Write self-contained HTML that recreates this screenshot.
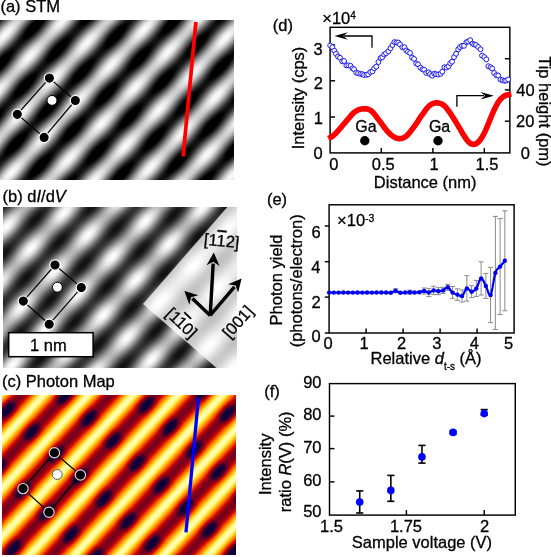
<!DOCTYPE html>
<html><head><meta charset="utf-8">
<style>
html,body{margin:0;padding:0;background:#fff;}
body{width:551px;height:557px;overflow:hidden;position:relative;}
canvas{position:absolute;display:block;}
svg{position:absolute;left:0;top:0;}
text{font-family:"Liberation Sans",sans-serif;fill:#000;stroke:#000;stroke-width:0.3px;}
</style></head><body>
<canvas id="ca" width="234" height="160" style="left:0px;top:20px;width:234px;height:160px;background:repeating-linear-gradient(132.8deg,#111 0px,#eee 16.4px,#111 32.8px)"></canvas>
<canvas id="cb" width="234" height="161" style="left:3px;top:207px;width:234px;height:161px;background:repeating-linear-gradient(132.8deg,#333 0px,#ddd 16.4px,#333 32.8px)"></canvas>
<canvas id="cc" width="234" height="160" style="left:2px;top:395px;width:234px;height:160px;background:repeating-linear-gradient(132.8deg,#700020 0px,#f04000 8px,#ffe060 16.4px,#f04000 24.6px,#700020 32.8px)"></canvas>
<svg width="551" height="557" viewBox="0 0 551 557">
<text x="0.45" y="12" font-size="16.5">(a) STM</text>
<text x="2.55" y="202.1" font-size="16.5">(b) d<tspan font-style="italic">I</tspan>/d<tspan font-style="italic">V</tspan></text>
<text x="1.95" y="387.1" font-size="16.5">(c) Photon Map</text>
<path d="M49.4 78.1 L75.3 100.5 L44.1 137.4 L17.3 114.3 L49.4 78.1" fill="none" stroke="#000" stroke-width="1.2"/>
<circle cx="49.4" cy="78.1" r="5.15" fill="#000" stroke="#fff" stroke-width="1.15"/>
<circle cx="75.3" cy="100.5" r="5.15" fill="#000" stroke="#fff" stroke-width="1.15"/>
<circle cx="44.1" cy="137.4" r="5.15" fill="#000" stroke="#fff" stroke-width="1.15"/>
<circle cx="17.3" cy="114.3" r="5.15" fill="#000" stroke="#fff" stroke-width="1.15"/>
<circle cx="52" cy="100.4" r="4.95" fill="#fff" stroke="#000" stroke-width="1"/>
<line x1="195.9" y1="22" x2="183.1" y2="156.5" stroke="#f00" stroke-width="3.7"/>
<path d="M237 207 L237 368 L216.6 368 L143 304 L227.35 207 L237 207" fill="#fff" stroke="none" stroke-width="1" fill-opacity="0.74"/>
<path d="M55 265 L81.3 287.6 L49.2 324.3 L23.3 301.1 L55 265" fill="none" stroke="#000" stroke-width="1.2"/>
<circle cx="55" cy="265" r="5.15" fill="#000" stroke="#fff" stroke-width="1.15"/>
<circle cx="81.3" cy="287.6" r="5.15" fill="#000" stroke="#fff" stroke-width="1.15"/>
<circle cx="49.2" cy="324.3" r="5.15" fill="#000" stroke="#fff" stroke-width="1.15"/>
<circle cx="23.3" cy="301.1" r="5.15" fill="#000" stroke="#fff" stroke-width="1.15"/>
<circle cx="57.4" cy="287.2" r="4.95" fill="#fff" stroke="#000" stroke-width="1"/>
<rect x="8.7" y="332.7" width="84.4" height="24" fill="#fff" stroke="#000" stroke-width="1.5"/>
<text x="29.97" y="350.7" font-size="16.5">1 nm</text>
<line x1="210.2" y1="315.4" x2="213.17" y2="263.58" stroke="#000" stroke-width="3.4"/>
<path d="M213.8 252.6 L219.55 265.95 L213.28 261.69 L206.57 265.21" fill="#000" stroke="none" stroke-width="1"/>
<line x1="210.2" y1="315.4" x2="192.39" y2="298.56" stroke="#000" stroke-width="3.4"/>
<path d="M184.4 291 L198.31 295.21 L191.01 297.25 L189.38 304.66" fill="#000" stroke="none" stroke-width="1"/>
<line x1="210.2" y1="315.4" x2="234.46" y2="286.97" stroke="#000" stroke-width="3.4"/>
<path d="M241.6 278.6 L238.11 292.71 L235.69 285.52 L228.22 284.27" fill="#000" stroke="none" stroke-width="1"/>
<text transform="translate(221.2,246.4) rotate(5.5)" font-size="16.5" text-anchor="middle">[1<tspan text-decoration="overline">1</tspan>2]</text>
<text transform="translate(177.7,327) rotate(43.5)" font-size="16.5" text-anchor="middle">[1<tspan text-decoration="overline">1</tspan>0]</text>
<text transform="translate(242,325.6) rotate(-48.3)" font-size="16.5" text-anchor="middle">[001]</text>
<path d="M54.4 452.7 L80.4 475 L49 512.2 L23 488.6 L54.4 452.7" fill="none" stroke="#000" stroke-width="1.2"/>
<circle cx="54.4" cy="452.7" r="5.15" fill="#000" stroke="#ddd" stroke-width="1.15"/>
<circle cx="80.4" cy="475" r="5.15" fill="#000" stroke="#ddd" stroke-width="1.15"/>
<circle cx="49" cy="512.2" r="5.15" fill="#000" stroke="#ddd" stroke-width="1.15"/>
<circle cx="23" cy="488.6" r="5.15" fill="#000" stroke="#ddd" stroke-width="1.15"/>
<circle cx="57.2" cy="474.5" r="4.95" fill="#fff" stroke="#555" stroke-width="1"/>
<line x1="198.4" y1="398.1" x2="186" y2="532.3" stroke="#00f" stroke-width="3.3"/>
<rect x="330.1" y="27.3" width="179.75" height="125.6" fill="none" stroke="#000" stroke-width="1.45"/>
<line x1="330.1" y1="117" x2="335.1" y2="117" stroke="#000" stroke-width="1.45"/>
<line x1="330.1" y1="80.8" x2="335.1" y2="80.8" stroke="#000" stroke-width="1.45"/>
<line x1="330.1" y1="44.9" x2="335.1" y2="44.9" stroke="#000" stroke-width="1.45"/>
<line x1="509.85" y1="121.2" x2="504.85" y2="121.2" stroke="#000" stroke-width="1.45"/>
<line x1="509.85" y1="89.9" x2="504.85" y2="89.9" stroke="#000" stroke-width="1.45"/>
<line x1="509.85" y1="58.7" x2="504.85" y2="58.7" stroke="#000" stroke-width="1.45"/>
<line x1="381.3" y1="152.9" x2="381.3" y2="147.9" stroke="#000" stroke-width="1.45"/>
<line x1="432.9" y1="152.9" x2="432.9" y2="147.9" stroke="#000" stroke-width="1.45"/>
<line x1="484.3" y1="152.9" x2="484.3" y2="147.9" stroke="#000" stroke-width="1.45"/>
<text x="313.5" y="159.4" font-size="16.5">0</text>
<text x="313.7" y="124.4" font-size="16.5">1</text>
<text x="313.7" y="89.2" font-size="16.5">2</text>
<text x="313.6" y="54.7" font-size="16.5">3</text>
<text x="520.7" y="158.7" font-size="16.5">0</text>
<text x="516" y="127.1" font-size="16.5">20</text>
<text x="516.22" y="96.1" font-size="16.5">40</text>
<text x="329.3" y="170.2" font-size="16.5">0</text>
<text x="371.75" y="170.2" font-size="16.5">0.5</text>
<text x="429.5" y="170.2" font-size="16.5">1</text>
<text x="475.55" y="170.2" font-size="16.5">1.5</text>
<text x="373.8" y="187.8" font-size="16.5">Distance (nm)</text>
<text transform="translate(303.8,149.35) rotate(-90)" font-size="16.5">Intensity (cps)</text>
<text transform="translate(539.3,56.2) rotate(90)" font-size="16.5">Tip height (pm)</text>
<text x="322.3" y="24" font-size="16.5">×10<tspan font-size="10" dy="-5.2">4</tspan></text>
<text x="272.75" y="30.5" font-size="16.5">(d)</text>
<path d="M330.8 137.2 L331.01 137.1 L331.27 137 L331.59 136.86 L331.98 136.66 L332.45 136.35 L333 135.9 L333.67 135.29 L334.46 134.54 L335.32 133.69 L336.23 132.77 L337.13 131.83 L338 130.9 L338.83 129.97 L339.67 129 L340.5 128 L341.33 126.99 L342.17 125.99 L343 125 L343.83 124.03 L344.67 123.06 L345.5 122.09 L346.33 121.13 L347.17 120.17 L348 119.2 L348.83 118.21 L349.67 117.18 L350.5 116.15 L351.33 115.16 L352.17 114.23 L353 113.4 L353.83 112.67 L354.67 112 L355.5 111.41 L356.33 110.87 L357.17 110.41 L358 110 L358.83 109.67 L359.67 109.41 L360.5 109.22 L361.33 109.08 L362.17 108.98 L363 108.9 L363.84 108.84 L364.7 108.81 L365.55 108.83 L366.39 108.89 L367.21 109.01 L368 109.2 L368.75 109.46 L369.46 109.78 L370.15 110.16 L370.83 110.6 L371.51 111.11 L372.2 111.7 L372.89 112.37 L373.57 113.12 L374.25 113.94 L374.94 114.81 L375.65 115.74 L376.4 116.7 L377.19 117.72 L378.01 118.81 L378.85 119.94 L379.7 121.1 L380.56 122.26 L381.4 123.4 L382.23 124.54 L383.07 125.7 L383.9 126.86 L384.73 127.99 L385.57 129.08 L386.4 130.1 L387.23 131.05 L388.07 131.97 L388.9 132.83 L389.73 133.64 L390.57 134.4 L391.4 135.1 L392.23 135.75 L393.06 136.35 L393.89 136.89 L394.73 137.37 L395.56 137.78 L396.4 138.1 L397.25 138.34 L398.1 138.5 L398.95 138.59 L399.8 138.61 L400.65 138.54 L401.5 138.4 L402.34 138.18 L403.17 137.9 L404.01 137.53 L404.84 137.08 L405.67 136.54 L406.5 135.9 L407.33 135.13 L408.17 134.24 L409 133.26 L409.83 132.22 L410.67 131.16 L411.5 130.1 L412.35 129.02 L413.22 127.89 L414.09 126.74 L414.94 125.59 L415.75 124.46 L416.5 123.4 L417.17 122.39 L417.79 121.4 L418.37 120.44 L418.92 119.52 L419.46 118.64 L420 117.8 L420.52 117.05 L420.99 116.39 L421.45 115.77 L421.93 115.14 L422.47 114.43 L423.1 113.6 L423.83 112.58 L424.65 111.4 L425.52 110.15 L426.42 108.91 L427.32 107.77 L428.2 106.8 L429.06 106 L429.93 105.3 L430.8 104.7 L431.67 104.19 L432.54 103.75 L433.4 103.4 L434.26 103.13 L435.11 102.95 L435.96 102.86 L436.8 102.84 L437.65 102.89 L438.5 103 L439.35 103.16 L440.2 103.37 L441.05 103.66 L441.9 104.03 L442.75 104.5 L443.6 105.1 L444.45 105.84 L445.3 106.72 L446.15 107.7 L447 108.76 L447.85 109.87 L448.7 111 L449.55 112.17 L450.4 113.4 L451.24 114.69 L452.09 116.01 L452.94 117.35 L453.8 118.7 L454.66 120.07 L455.53 121.47 L456.4 122.89 L457.27 124.33 L458.14 125.77 L459 127.2 L459.86 128.65 L460.71 130.13 L461.56 131.61 L462.4 133.06 L463.25 134.47 L464.1 135.8 L464.95 137.1 L465.8 138.39 L466.65 139.63 L467.5 140.78 L468.35 141.78 L469.2 142.6 L470.05 143.24 L470.9 143.73 L471.75 144.09 L472.6 144.3 L473.45 144.37 L474.3 144.3 L475.15 144.09 L476 143.73 L476.84 143.24 L477.69 142.6 L478.54 141.82 L479.4 140.9 L480.26 139.82 L481.13 138.57 L482 137.19 L482.87 135.68 L483.74 134.08 L484.6 132.4 L485.46 130.6 L486.31 128.66 L487.16 126.61 L488 124.52 L488.85 122.43 L489.7 120.4 L490.55 118.37 L491.4 116.3 L492.25 114.24 L493.1 112.22 L493.95 110.29 L494.8 108.5 L495.65 106.82 L496.5 105.23 L497.35 103.72 L498.2 102.32 L499.05 101.04 L499.9 99.9 L500.77 98.91 L501.66 98.06 L502.54 97.33 L503.41 96.71 L504.24 96.17 L505 95.7 L505.73 95.32 L506.44 95.06 L507.12 94.89 L507.72 94.77 L508.23 94.68 L508.6 94.6" fill="none" stroke="#f00" stroke-width="5.6" stroke-linejoin="round" stroke-linecap="square"/>
<circle cx="330.19" cy="45.44" r="2.45" fill="#fffbe0" stroke="#1a1aff" stroke-width="1"/>
<circle cx="332.39" cy="47.24" r="2.45" fill="#fffbe0" stroke="#1a1aff" stroke-width="1"/>
<circle cx="334.32" cy="50.76" r="2.45" fill="#fffbe0" stroke="#1a1aff" stroke-width="1"/>
<circle cx="336.03" cy="53.82" r="2.45" fill="#fffbe0" stroke="#1a1aff" stroke-width="1"/>
<circle cx="338.02" cy="56.5" r="2.45" fill="#fffbe0" stroke="#1a1aff" stroke-width="1"/>
<circle cx="340.04" cy="57.78" r="2.45" fill="#fffbe0" stroke="#1a1aff" stroke-width="1"/>
<circle cx="342.25" cy="61.35" r="2.45" fill="#fffbe0" stroke="#1a1aff" stroke-width="1"/>
<circle cx="344.07" cy="61.03" r="2.45" fill="#fffbe0" stroke="#1a1aff" stroke-width="1"/>
<circle cx="346.38" cy="65.45" r="2.45" fill="#fffbe0" stroke="#1a1aff" stroke-width="1"/>
<circle cx="348.35" cy="65.35" r="2.45" fill="#fffbe0" stroke="#1a1aff" stroke-width="1"/>
<circle cx="350.59" cy="65.84" r="2.45" fill="#fffbe0" stroke="#1a1aff" stroke-width="1"/>
<circle cx="352.52" cy="68.31" r="2.45" fill="#fffbe0" stroke="#1a1aff" stroke-width="1"/>
<circle cx="354.09" cy="69.24" r="2.45" fill="#fffbe0" stroke="#1a1aff" stroke-width="1"/>
<circle cx="356.19" cy="72.58" r="2.45" fill="#fffbe0" stroke="#1a1aff" stroke-width="1"/>
<circle cx="358.11" cy="73.28" r="2.45" fill="#fffbe0" stroke="#1a1aff" stroke-width="1"/>
<circle cx="360.38" cy="73.91" r="2.45" fill="#fffbe0" stroke="#1a1aff" stroke-width="1"/>
<circle cx="362.33" cy="74.12" r="2.45" fill="#fffbe0" stroke="#1a1aff" stroke-width="1"/>
<circle cx="364.04" cy="74.92" r="2.45" fill="#fffbe0" stroke="#1a1aff" stroke-width="1"/>
<circle cx="366.41" cy="74.94" r="2.45" fill="#fffbe0" stroke="#1a1aff" stroke-width="1"/>
<circle cx="368.19" cy="74.33" r="2.45" fill="#fffbe0" stroke="#1a1aff" stroke-width="1"/>
<circle cx="370.27" cy="72.05" r="2.45" fill="#fffbe0" stroke="#1a1aff" stroke-width="1"/>
<circle cx="372.48" cy="71.34" r="2.45" fill="#fffbe0" stroke="#1a1aff" stroke-width="1"/>
<circle cx="374.15" cy="68.35" r="2.45" fill="#fffbe0" stroke="#1a1aff" stroke-width="1"/>
<circle cx="376.32" cy="66.64" r="2.45" fill="#fffbe0" stroke="#1a1aff" stroke-width="1"/>
<circle cx="378.44" cy="62.05" r="2.45" fill="#fffbe0" stroke="#1a1aff" stroke-width="1"/>
<circle cx="380.59" cy="58.02" r="2.45" fill="#fffbe0" stroke="#1a1aff" stroke-width="1"/>
<circle cx="382.25" cy="57.24" r="2.45" fill="#fffbe0" stroke="#1a1aff" stroke-width="1"/>
<circle cx="384.09" cy="54.55" r="2.45" fill="#fffbe0" stroke="#1a1aff" stroke-width="1"/>
<circle cx="386.02" cy="53.27" r="2.45" fill="#fffbe0" stroke="#1a1aff" stroke-width="1"/>
<circle cx="388.46" cy="51.28" r="2.45" fill="#fffbe0" stroke="#1a1aff" stroke-width="1"/>
<circle cx="390.53" cy="48.2" r="2.45" fill="#fffbe0" stroke="#1a1aff" stroke-width="1"/>
<circle cx="392.42" cy="45.1" r="2.45" fill="#fffbe0" stroke="#1a1aff" stroke-width="1"/>
<circle cx="394.35" cy="42.11" r="2.45" fill="#fffbe0" stroke="#1a1aff" stroke-width="1"/>
<circle cx="396.5" cy="42.46" r="2.45" fill="#fffbe0" stroke="#1a1aff" stroke-width="1"/>
<circle cx="398.28" cy="42.53" r="2.45" fill="#fffbe0" stroke="#1a1aff" stroke-width="1"/>
<circle cx="400.04" cy="44.41" r="2.45" fill="#fffbe0" stroke="#1a1aff" stroke-width="1"/>
<circle cx="402.39" cy="47.28" r="2.45" fill="#fffbe0" stroke="#1a1aff" stroke-width="1"/>
<circle cx="404.49" cy="47.24" r="2.45" fill="#fffbe0" stroke="#1a1aff" stroke-width="1"/>
<circle cx="406.23" cy="50.42" r="2.45" fill="#fffbe0" stroke="#1a1aff" stroke-width="1"/>
<circle cx="408.01" cy="51.81" r="2.45" fill="#fffbe0" stroke="#1a1aff" stroke-width="1"/>
<circle cx="410.1" cy="52.92" r="2.45" fill="#fffbe0" stroke="#1a1aff" stroke-width="1"/>
<circle cx="412.04" cy="57.5" r="2.45" fill="#fffbe0" stroke="#1a1aff" stroke-width="1"/>
<circle cx="414.08" cy="58.92" r="2.45" fill="#fffbe0" stroke="#1a1aff" stroke-width="1"/>
<circle cx="416.23" cy="63.46" r="2.45" fill="#fffbe0" stroke="#1a1aff" stroke-width="1"/>
<circle cx="418.05" cy="64.34" r="2.45" fill="#fffbe0" stroke="#1a1aff" stroke-width="1"/>
<circle cx="420.33" cy="67.56" r="2.45" fill="#fffbe0" stroke="#1a1aff" stroke-width="1"/>
<circle cx="422.49" cy="69.27" r="2.45" fill="#fffbe0" stroke="#1a1aff" stroke-width="1"/>
<circle cx="424.17" cy="69.78" r="2.45" fill="#fffbe0" stroke="#1a1aff" stroke-width="1"/>
<circle cx="426.22" cy="72.95" r="2.45" fill="#fffbe0" stroke="#1a1aff" stroke-width="1"/>
<circle cx="428.57" cy="72.36" r="2.45" fill="#fffbe0" stroke="#1a1aff" stroke-width="1"/>
<circle cx="430.11" cy="74.12" r="2.45" fill="#fffbe0" stroke="#1a1aff" stroke-width="1"/>
<circle cx="432.14" cy="75.72" r="2.45" fill="#fffbe0" stroke="#1a1aff" stroke-width="1"/>
<circle cx="434.35" cy="73.63" r="2.45" fill="#fffbe0" stroke="#1a1aff" stroke-width="1"/>
<circle cx="436" cy="74.24" r="2.45" fill="#fffbe0" stroke="#1a1aff" stroke-width="1"/>
<circle cx="438.22" cy="74.57" r="2.45" fill="#fffbe0" stroke="#1a1aff" stroke-width="1"/>
<circle cx="440.57" cy="73.8" r="2.45" fill="#fffbe0" stroke="#1a1aff" stroke-width="1"/>
<circle cx="442.31" cy="71.63" r="2.45" fill="#fffbe0" stroke="#1a1aff" stroke-width="1"/>
<circle cx="444.41" cy="67.24" r="2.45" fill="#fffbe0" stroke="#1a1aff" stroke-width="1"/>
<circle cx="446.54" cy="67.6" r="2.45" fill="#fffbe0" stroke="#1a1aff" stroke-width="1"/>
<circle cx="448.52" cy="66.26" r="2.45" fill="#fffbe0" stroke="#1a1aff" stroke-width="1"/>
<circle cx="450.24" cy="63.27" r="2.45" fill="#fffbe0" stroke="#1a1aff" stroke-width="1"/>
<circle cx="452.06" cy="61.71" r="2.45" fill="#fffbe0" stroke="#1a1aff" stroke-width="1"/>
<circle cx="454.04" cy="57.1" r="2.45" fill="#fffbe0" stroke="#1a1aff" stroke-width="1"/>
<circle cx="456.13" cy="53.77" r="2.45" fill="#fffbe0" stroke="#1a1aff" stroke-width="1"/>
<circle cx="458.2" cy="49.36" r="2.45" fill="#fffbe0" stroke="#1a1aff" stroke-width="1"/>
<circle cx="460" cy="47.11" r="2.45" fill="#fffbe0" stroke="#1a1aff" stroke-width="1"/>
<circle cx="462.06" cy="45.75" r="2.45" fill="#fffbe0" stroke="#1a1aff" stroke-width="1"/>
<circle cx="464.02" cy="45.84" r="2.45" fill="#fffbe0" stroke="#1a1aff" stroke-width="1"/>
<circle cx="466.37" cy="42.2" r="2.45" fill="#fffbe0" stroke="#1a1aff" stroke-width="1"/>
<circle cx="468.15" cy="41.6" r="2.45" fill="#fffbe0" stroke="#1a1aff" stroke-width="1"/>
<circle cx="470.22" cy="40.16" r="2.45" fill="#fffbe0" stroke="#1a1aff" stroke-width="1"/>
<circle cx="472.51" cy="43.64" r="2.45" fill="#fffbe0" stroke="#1a1aff" stroke-width="1"/>
<circle cx="474.28" cy="44.52" r="2.45" fill="#fffbe0" stroke="#1a1aff" stroke-width="1"/>
<circle cx="476.05" cy="45.05" r="2.45" fill="#fffbe0" stroke="#1a1aff" stroke-width="1"/>
<circle cx="478.21" cy="47" r="2.45" fill="#fffbe0" stroke="#1a1aff" stroke-width="1"/>
<circle cx="480.5" cy="49.29" r="2.45" fill="#fffbe0" stroke="#1a1aff" stroke-width="1"/>
<circle cx="482.01" cy="55.6" r="2.45" fill="#fffbe0" stroke="#1a1aff" stroke-width="1"/>
<circle cx="484.32" cy="57.07" r="2.45" fill="#fffbe0" stroke="#1a1aff" stroke-width="1"/>
<circle cx="486.33" cy="59.38" r="2.45" fill="#fffbe0" stroke="#1a1aff" stroke-width="1"/>
<circle cx="488.32" cy="66.18" r="2.45" fill="#fffbe0" stroke="#1a1aff" stroke-width="1"/>
<circle cx="490.52" cy="67.19" r="2.45" fill="#fffbe0" stroke="#1a1aff" stroke-width="1"/>
<circle cx="492.16" cy="68.5" r="2.45" fill="#fffbe0" stroke="#1a1aff" stroke-width="1"/>
<circle cx="494.1" cy="72.94" r="2.45" fill="#fffbe0" stroke="#1a1aff" stroke-width="1"/>
<circle cx="496.32" cy="75.24" r="2.45" fill="#fffbe0" stroke="#1a1aff" stroke-width="1"/>
<circle cx="498.2" cy="75.54" r="2.45" fill="#fffbe0" stroke="#1a1aff" stroke-width="1"/>
<circle cx="500.49" cy="79.55" r="2.45" fill="#fffbe0" stroke="#1a1aff" stroke-width="1"/>
<circle cx="502.51" cy="80.26" r="2.45" fill="#fffbe0" stroke="#1a1aff" stroke-width="1"/>
<circle cx="504.49" cy="80.77" r="2.45" fill="#fffbe0" stroke="#1a1aff" stroke-width="1"/>
<circle cx="506.14" cy="80.61" r="2.45" fill="#fffbe0" stroke="#1a1aff" stroke-width="1"/>
<circle cx="508.21" cy="79.52" r="2.45" fill="#fffbe0" stroke="#1a1aff" stroke-width="1"/>
<path d="M344 36 L372 36 L372 47.7" fill="none" stroke="#000" stroke-width="1.3"/>
<path d="M334.4 36 L347.9 32.2 L343.17 36 L347.9 39.8 L334.4 36" fill="#000" stroke="none" stroke-width="1"/>
<path d="M456.9 106.8 L456.9 95.7 L484 95.7" fill="none" stroke="#000" stroke-width="1.3"/>
<path d="M493.9 95.7 L480.4 99.5 L485.12 95.7 L480.4 91.9 L493.9 95.7" fill="#000" stroke="none" stroke-width="1"/>
<text x="355.23" y="131.9" font-size="16">Ga</text>
<circle cx="364.8" cy="140.8" r="4.7" fill="#000" stroke="none" stroke-width="1"/>
<text x="428.93" y="132.4" font-size="16">Ga</text>
<circle cx="438" cy="140.7" r="4.7" fill="#000" stroke="none" stroke-width="1"/>
<rect x="329.1" y="204.8" width="185" height="128.2" fill="none" stroke="#000" stroke-width="1.45"/>
<line x1="324.8" y1="226" x2="329.1" y2="226" stroke="#000" stroke-width="1.45"/>
<line x1="324.8" y1="261.7" x2="329.1" y2="261.7" stroke="#000" stroke-width="1.45"/>
<line x1="324.8" y1="297.1" x2="329.1" y2="297.1" stroke="#000" stroke-width="1.45"/>
<line x1="324.8" y1="333" x2="329.1" y2="333" stroke="#000" stroke-width="1.45"/>
<line x1="366.1" y1="333" x2="366.1" y2="328.5" stroke="#000" stroke-width="1.45"/>
<line x1="403.1" y1="333" x2="403.1" y2="328.5" stroke="#000" stroke-width="1.45"/>
<line x1="440.1" y1="333" x2="440.1" y2="328.5" stroke="#000" stroke-width="1.45"/>
<line x1="477.1" y1="333" x2="477.1" y2="328.5" stroke="#000" stroke-width="1.45"/>
<text x="311.5" y="237.5" font-size="16.5">6</text>
<text x="311.25" y="272.6" font-size="16.5">4</text>
<text x="311.6" y="307.7" font-size="16.5">2</text>
<text x="311.4" y="342.4" font-size="16.5">0</text>
<text x="323.6" y="348.9" font-size="16.5">0</text>
<text x="359.5" y="348.9" font-size="16.5">1</text>
<text x="397.1" y="348.9" font-size="16.5">2</text>
<text x="432.35" y="348.9" font-size="16.5">3</text>
<text x="469.75" y="348.9" font-size="16.5">4</text>
<text x="504.12" y="348.9" font-size="16.5">5</text>
<text transform="translate(282.4,325.4) rotate(-90)" font-size="16.5">Photon yield</text>
<text transform="translate(302.3,347.35) rotate(-90)" font-size="16.5">(photons/electron)</text>
<text x="370.5" y="364.3" font-size="16.5">Relative <tspan font-style="italic">d</tspan><tspan font-size="10" dy="5.6">t-s</tspan><tspan dy="-5.6"> (Å)</tspan></text>
<text x="337.1" y="226" font-size="16.5">×10<tspan font-size="10.5" dy="-4.3">-3</tspan></text>
<text x="266.95" y="205.3" font-size="16.5">(e)</text>
<line x1="395.6" y1="288.8" x2="395.6" y2="292.8" stroke="#8a8a8a" stroke-width="1"/>
<line x1="393" y1="288.8" x2="398.2" y2="288.8" stroke="#8a8a8a" stroke-width="1"/>
<line x1="393" y1="292.8" x2="398.2" y2="292.8" stroke="#8a8a8a" stroke-width="1"/>
<line x1="409.85" y1="290.2" x2="409.85" y2="294.2" stroke="#8a8a8a" stroke-width="1"/>
<line x1="407.25" y1="290.2" x2="412.45" y2="290.2" stroke="#8a8a8a" stroke-width="1"/>
<line x1="407.25" y1="294.2" x2="412.45" y2="294.2" stroke="#8a8a8a" stroke-width="1"/>
<line x1="424.1" y1="288" x2="424.1" y2="294" stroke="#8a8a8a" stroke-width="1"/>
<line x1="421.5" y1="288" x2="426.7" y2="288" stroke="#8a8a8a" stroke-width="1"/>
<line x1="421.5" y1="294" x2="426.7" y2="294" stroke="#8a8a8a" stroke-width="1"/>
<line x1="428.85" y1="288.4" x2="428.85" y2="296.6" stroke="#8a8a8a" stroke-width="1"/>
<line x1="426.25" y1="288.4" x2="431.45" y2="288.4" stroke="#8a8a8a" stroke-width="1"/>
<line x1="426.25" y1="296.6" x2="431.45" y2="296.6" stroke="#8a8a8a" stroke-width="1"/>
<line x1="433.6" y1="286.2" x2="433.6" y2="294.6" stroke="#8a8a8a" stroke-width="1"/>
<line x1="431" y1="286.2" x2="436.2" y2="286.2" stroke="#8a8a8a" stroke-width="1"/>
<line x1="431" y1="294.6" x2="436.2" y2="294.6" stroke="#8a8a8a" stroke-width="1"/>
<line x1="438.35" y1="287.7" x2="438.35" y2="294.7" stroke="#8a8a8a" stroke-width="1"/>
<line x1="435.75" y1="287.7" x2="440.95" y2="287.7" stroke="#8a8a8a" stroke-width="1"/>
<line x1="435.75" y1="294.7" x2="440.95" y2="294.7" stroke="#8a8a8a" stroke-width="1"/>
<line x1="443.1" y1="287.4" x2="443.1" y2="293.4" stroke="#8a8a8a" stroke-width="1"/>
<line x1="440.5" y1="287.4" x2="445.7" y2="287.4" stroke="#8a8a8a" stroke-width="1"/>
<line x1="440.5" y1="293.4" x2="445.7" y2="293.4" stroke="#8a8a8a" stroke-width="1"/>
<line x1="447.85" y1="284.3" x2="447.85" y2="290.3" stroke="#8a8a8a" stroke-width="1"/>
<line x1="445.25" y1="284.3" x2="450.45" y2="284.3" stroke="#8a8a8a" stroke-width="1"/>
<line x1="445.25" y1="290.3" x2="450.45" y2="290.3" stroke="#8a8a8a" stroke-width="1"/>
<line x1="452.6" y1="286.5" x2="452.6" y2="298.7" stroke="#8a8a8a" stroke-width="1"/>
<line x1="450" y1="286.5" x2="455.2" y2="286.5" stroke="#8a8a8a" stroke-width="1"/>
<line x1="450" y1="298.7" x2="455.2" y2="298.7" stroke="#8a8a8a" stroke-width="1"/>
<line x1="457.35" y1="288.8" x2="457.35" y2="300.4" stroke="#8a8a8a" stroke-width="1"/>
<line x1="454.75" y1="288.8" x2="459.95" y2="288.8" stroke="#8a8a8a" stroke-width="1"/>
<line x1="454.75" y1="300.4" x2="459.95" y2="300.4" stroke="#8a8a8a" stroke-width="1"/>
<line x1="462.1" y1="290" x2="462.1" y2="302" stroke="#8a8a8a" stroke-width="1"/>
<line x1="459.5" y1="290" x2="464.7" y2="290" stroke="#8a8a8a" stroke-width="1"/>
<line x1="459.5" y1="302" x2="464.7" y2="302" stroke="#8a8a8a" stroke-width="1"/>
<line x1="466.85" y1="275.7" x2="466.85" y2="301.1" stroke="#8a8a8a" stroke-width="1"/>
<line x1="464.25" y1="275.7" x2="469.45" y2="275.7" stroke="#8a8a8a" stroke-width="1"/>
<line x1="464.25" y1="301.1" x2="469.45" y2="301.1" stroke="#8a8a8a" stroke-width="1"/>
<line x1="471.6" y1="285.7" x2="471.6" y2="297.7" stroke="#8a8a8a" stroke-width="1"/>
<line x1="469" y1="285.7" x2="474.2" y2="285.7" stroke="#8a8a8a" stroke-width="1"/>
<line x1="469" y1="297.7" x2="474.2" y2="297.7" stroke="#8a8a8a" stroke-width="1"/>
<line x1="476.35" y1="280.4" x2="476.35" y2="296.4" stroke="#8a8a8a" stroke-width="1"/>
<line x1="473.75" y1="280.4" x2="478.95" y2="280.4" stroke="#8a8a8a" stroke-width="1"/>
<line x1="473.75" y1="296.4" x2="478.95" y2="296.4" stroke="#8a8a8a" stroke-width="1"/>
<line x1="481.1" y1="261.8" x2="481.1" y2="295" stroke="#8a8a8a" stroke-width="1"/>
<line x1="478.5" y1="261.8" x2="483.7" y2="261.8" stroke="#8a8a8a" stroke-width="1"/>
<line x1="478.5" y1="295" x2="483.7" y2="295" stroke="#8a8a8a" stroke-width="1"/>
<line x1="485.85" y1="273.4" x2="485.85" y2="298.4" stroke="#8a8a8a" stroke-width="1"/>
<line x1="483.25" y1="273.4" x2="488.45" y2="273.4" stroke="#8a8a8a" stroke-width="1"/>
<line x1="483.25" y1="298.4" x2="488.45" y2="298.4" stroke="#8a8a8a" stroke-width="1"/>
<line x1="490.6" y1="267.4" x2="490.6" y2="322.6" stroke="#8a8a8a" stroke-width="1"/>
<line x1="488" y1="267.4" x2="493.2" y2="267.4" stroke="#8a8a8a" stroke-width="1"/>
<line x1="488" y1="322.6" x2="493.2" y2="322.6" stroke="#8a8a8a" stroke-width="1"/>
<line x1="495.35" y1="216.4" x2="495.35" y2="329.4" stroke="#8a8a8a" stroke-width="1"/>
<line x1="492.75" y1="216.4" x2="497.95" y2="216.4" stroke="#8a8a8a" stroke-width="1"/>
<line x1="492.75" y1="329.4" x2="497.95" y2="329.4" stroke="#8a8a8a" stroke-width="1"/>
<line x1="500.1" y1="218.6" x2="500.1" y2="314.6" stroke="#8a8a8a" stroke-width="1"/>
<line x1="497.5" y1="218.6" x2="502.7" y2="218.6" stroke="#8a8a8a" stroke-width="1"/>
<line x1="497.5" y1="314.6" x2="502.7" y2="314.6" stroke="#8a8a8a" stroke-width="1"/>
<line x1="504.85" y1="210.8" x2="504.85" y2="310.8" stroke="#8a8a8a" stroke-width="1"/>
<line x1="502.25" y1="210.8" x2="507.45" y2="210.8" stroke="#8a8a8a" stroke-width="1"/>
<line x1="502.25" y1="310.8" x2="507.45" y2="310.8" stroke="#8a8a8a" stroke-width="1"/>
<path d="M329.1 292.6 L329.75 292.6 L330.66 292.6 L331.72 292.6 L332.82 292.6 L333.85 292.6 L334.8 292.6 L335.75 292.6 L336.7 292.61 L337.65 292.61 L338.6 292.6 L339.55 292.58 L340.5 292.56 L341.45 292.53 L342.4 292.51 L343.35 292.5 L344.3 292.51 L345.25 292.53 L346.2 292.56 L347.15 292.58 L348.1 292.6 L349.05 292.61 L350 292.61 L350.95 292.61 L351.9 292.61 L352.85 292.6 L353.8 292.58 L354.75 292.56 L355.7 292.53 L356.65 292.51 L357.6 292.5 L358.55 292.51 L359.5 292.54 L360.45 292.56 L361.4 292.59 L362.35 292.6 L363.3 292.59 L364.25 292.56 L365.2 292.54 L366.15 292.51 L367.1 292.5 L368.05 292.51 L369 292.54 L369.95 292.56 L370.9 292.59 L371.85 292.6 L372.8 292.59 L373.75 292.57 L374.7 292.54 L375.65 292.52 L376.6 292.5 L377.55 292.49 L378.5 292.49 L379.45 292.5 L380.4 292.5 L381.35 292.5 L382.3 292.5 L383.25 292.49 L384.2 292.48 L385.15 292.48 L386.1 292.5 L387.05 292.58 L388 292.71 L388.95 292.83 L389.9 292.88 L390.85 292.8 L391.8 292.48 L392.75 291.97 L393.7 291.42 L394.65 290.98 L395.6 290.8 L396.55 290.98 L397.5 291.42 L398.45 291.97 L399.4 292.48 L400.35 292.8 L401.3 292.89 L402.25 292.85 L403.2 292.73 L404.15 292.6 L405.1 292.5 L406.05 292.43 L407 292.35 L407.95 292.28 L408.9 292.22 L409.85 292.2 L410.8 292.23 L411.75 292.31 L412.7 292.39 L413.65 292.47 L414.6 292.5 L415.55 292.49 L416.5 292.47 L417.45 292.41 L418.4 292.33 L419.35 292.2 L420.3 291.97 L421.25 291.66 L422.2 291.33 L423.15 291.08 L424.1 291 L425.05 291.18 L426 291.58 L426.95 292.03 L427.9 292.39 L428.85 292.5 L429.8 292.26 L430.75 291.78 L431.7 291.2 L432.65 290.69 L433.6 290.4 L434.55 290.4 L435.5 290.59 L436.45 290.86 L437.4 291.1 L438.35 291.2 L439.3 291.18 L440.25 291.11 L441.2 290.96 L442.15 290.73 L443.1 290.4 L444.05 289.79 L445 288.92 L445.95 288.05 L446.9 287.42 L447.85 287.3 L448.8 287.88 L449.75 288.97 L450.7 290.31 L451.65 291.62 L452.6 292.6 L453.55 293.22 L454.5 293.67 L455.45 294 L456.4 294.29 L457.35 294.6 L458.3 295.06 L459.25 295.64 L460.2 296.12 L461.15 296.31 L462.1 296 L463.05 294.88 L464 293.08 L464.95 291.09 L465.9 289.37 L466.85 288.4 L467.8 288.47 L468.75 289.25 L469.7 290.33 L470.65 291.29 L471.6 291.7 L472.55 291.57 L473.5 291.18 L474.45 290.52 L475.4 289.59 L476.35 288.4 L477.3 286.55 L478.25 284.04 L479.2 281.46 L480.15 279.39 L481.1 278.4 L482.05 278.75 L483 280.06 L483.95 281.94 L484.9 284.02 L485.85 285.9 L486.8 288.12 L487.75 290.92 L488.7 293.53 L489.65 295.15 L490.6 295 L491.55 292.32 L492.5 287.65 L493.45 282.1 L494.4 276.81 L495.35 272.9 L496.3 270.62 L497.25 269.22 L498.2 268.33 L499.15 267.58 L500.1 266.6 L501.13 265.32 L502.23 263.97 L503.29 262.68 L504.2 261.58 L504.85 260.8" fill="none" stroke="#0000f0" stroke-width="2.2" stroke-linejoin="round"/>
<circle cx="329.1" cy="292.6" r="2.2" fill="#0000f0" stroke="none" stroke-width="1"/>
<circle cx="333.85" cy="292.6" r="2.2" fill="#0000f0" stroke="none" stroke-width="1"/>
<circle cx="338.6" cy="292.6" r="2.2" fill="#0000f0" stroke="none" stroke-width="1"/>
<circle cx="343.35" cy="292.5" r="2.2" fill="#0000f0" stroke="none" stroke-width="1"/>
<circle cx="348.1" cy="292.6" r="2.2" fill="#0000f0" stroke="none" stroke-width="1"/>
<circle cx="352.85" cy="292.6" r="2.2" fill="#0000f0" stroke="none" stroke-width="1"/>
<circle cx="357.6" cy="292.5" r="2.2" fill="#0000f0" stroke="none" stroke-width="1"/>
<circle cx="362.35" cy="292.6" r="2.2" fill="#0000f0" stroke="none" stroke-width="1"/>
<circle cx="367.1" cy="292.5" r="2.2" fill="#0000f0" stroke="none" stroke-width="1"/>
<circle cx="371.85" cy="292.6" r="2.2" fill="#0000f0" stroke="none" stroke-width="1"/>
<circle cx="376.6" cy="292.5" r="2.2" fill="#0000f0" stroke="none" stroke-width="1"/>
<circle cx="381.35" cy="292.5" r="2.2" fill="#0000f0" stroke="none" stroke-width="1"/>
<circle cx="386.1" cy="292.5" r="2.2" fill="#0000f0" stroke="none" stroke-width="1"/>
<circle cx="390.85" cy="292.8" r="2.2" fill="#0000f0" stroke="none" stroke-width="1"/>
<circle cx="395.6" cy="290.8" r="2.2" fill="#0000f0" stroke="none" stroke-width="1"/>
<circle cx="400.35" cy="292.8" r="2.2" fill="#0000f0" stroke="none" stroke-width="1"/>
<circle cx="405.1" cy="292.5" r="2.2" fill="#0000f0" stroke="none" stroke-width="1"/>
<circle cx="409.85" cy="292.2" r="2.2" fill="#0000f0" stroke="none" stroke-width="1"/>
<circle cx="414.6" cy="292.5" r="2.2" fill="#0000f0" stroke="none" stroke-width="1"/>
<circle cx="419.35" cy="292.2" r="2.2" fill="#0000f0" stroke="none" stroke-width="1"/>
<circle cx="424.1" cy="291" r="2.2" fill="#0000f0" stroke="none" stroke-width="1"/>
<circle cx="428.85" cy="292.5" r="2.2" fill="#0000f0" stroke="none" stroke-width="1"/>
<circle cx="433.6" cy="290.4" r="2.2" fill="#0000f0" stroke="none" stroke-width="1"/>
<circle cx="438.35" cy="291.2" r="2.2" fill="#0000f0" stroke="none" stroke-width="1"/>
<circle cx="443.1" cy="290.4" r="2.2" fill="#0000f0" stroke="none" stroke-width="1"/>
<circle cx="447.85" cy="287.3" r="2.2" fill="#0000f0" stroke="none" stroke-width="1"/>
<circle cx="452.6" cy="292.6" r="2.2" fill="#0000f0" stroke="none" stroke-width="1"/>
<circle cx="457.35" cy="294.6" r="2.2" fill="#0000f0" stroke="none" stroke-width="1"/>
<circle cx="462.1" cy="296" r="2.2" fill="#0000f0" stroke="none" stroke-width="1"/>
<circle cx="466.85" cy="288.4" r="2.2" fill="#0000f0" stroke="none" stroke-width="1"/>
<circle cx="471.6" cy="291.7" r="2.2" fill="#0000f0" stroke="none" stroke-width="1"/>
<circle cx="476.35" cy="288.4" r="2.2" fill="#0000f0" stroke="none" stroke-width="1"/>
<circle cx="481.1" cy="278.4" r="2.2" fill="#0000f0" stroke="none" stroke-width="1"/>
<circle cx="485.85" cy="285.9" r="2.2" fill="#0000f0" stroke="none" stroke-width="1"/>
<circle cx="490.6" cy="295" r="2.2" fill="#0000f0" stroke="none" stroke-width="1"/>
<circle cx="495.35" cy="272.9" r="2.2" fill="#0000f0" stroke="none" stroke-width="1"/>
<circle cx="500.1" cy="266.6" r="2.2" fill="#0000f0" stroke="none" stroke-width="1"/>
<circle cx="504.85" cy="260.8" r="2.2" fill="#0000f0" stroke="none" stroke-width="1"/>
<rect x="329.5" y="383.6" width="185.75" height="131.5" fill="none" stroke="#000" stroke-width="1.45"/>
<line x1="329.5" y1="416.1" x2="334.5" y2="416.1" stroke="#000" stroke-width="1.45"/>
<line x1="329.5" y1="448.6" x2="334.5" y2="448.6" stroke="#000" stroke-width="1.45"/>
<line x1="329.5" y1="481.9" x2="334.5" y2="481.9" stroke="#000" stroke-width="1.45"/>
<line x1="406.4" y1="515.1" x2="406.4" y2="510.1" stroke="#000" stroke-width="1.45"/>
<line x1="484.2" y1="515.1" x2="484.2" y2="510.1" stroke="#000" stroke-width="1.45"/>
<text x="303.2" y="387.5" font-size="16.5">90</text>
<text x="303.2" y="420.2" font-size="16.5">80</text>
<text x="303.2" y="452.7" font-size="16.5">70</text>
<text x="303.2" y="485.7" font-size="16.5">60</text>
<text x="303.2" y="516.8" font-size="16.5">50</text>
<text x="320.05" y="532.3" font-size="16.5">1.5</text>
<text x="389.95" y="532.3" font-size="16.5">1.75</text>
<text x="479.95" y="532.3" font-size="16.5">2</text>
<text x="351.8" y="548.3" font-size="16.5">Sample voltage (V)</text>
<text transform="translate(271.2,495.05) rotate(-90)" font-size="16.5">Intensity</text>
<text transform="translate(290.6,512.25) rotate(-90)" font-size="16.5">ratio <tspan font-style="italic">R</tspan>(V) (%)</text>
<text x="264.15" y="397" font-size="16.5">(f)</text>
<line x1="359.72" y1="490.9" x2="359.72" y2="513" stroke="#000" stroke-width="1.6"/>
<line x1="356.12" y1="490.9" x2="363.32" y2="490.9" stroke="#000" stroke-width="1.6"/>
<line x1="356.12" y1="513" x2="363.32" y2="513" stroke="#000" stroke-width="1.6"/>
<circle cx="359.72" cy="502.1" r="3.8" fill="#0000ff" stroke="none" stroke-width="1"/>
<line x1="390.84" y1="475.4" x2="390.84" y2="501.3" stroke="#000" stroke-width="1.6"/>
<line x1="387.24" y1="475.4" x2="394.44" y2="475.4" stroke="#000" stroke-width="1.6"/>
<line x1="387.24" y1="501.3" x2="394.44" y2="501.3" stroke="#000" stroke-width="1.6"/>
<circle cx="390.84" cy="490.4" r="3.8" fill="#0000ff" stroke="none" stroke-width="1"/>
<line x1="421.96" y1="445.4" x2="421.96" y2="463.1" stroke="#000" stroke-width="1.6"/>
<line x1="418.36" y1="445.4" x2="425.56" y2="445.4" stroke="#000" stroke-width="1.6"/>
<line x1="418.36" y1="463.1" x2="425.56" y2="463.1" stroke="#000" stroke-width="1.6"/>
<circle cx="421.96" cy="456.9" r="3.8" fill="#0000ff" stroke="none" stroke-width="1"/>
<line x1="453.08" y1="431" x2="453.08" y2="434" stroke="#000" stroke-width="1.6"/>
<line x1="449.48" y1="431" x2="456.68" y2="431" stroke="#000" stroke-width="1.6"/>
<line x1="449.48" y1="434" x2="456.68" y2="434" stroke="#000" stroke-width="1.6"/>
<circle cx="453.08" cy="432.4" r="3.8" fill="#0000ff" stroke="none" stroke-width="1"/>
<line x1="484.2" y1="409.6" x2="484.2" y2="415" stroke="#000" stroke-width="1.6"/>
<line x1="480.6" y1="409.6" x2="487.8" y2="409.6" stroke="#000" stroke-width="1.6"/>
<line x1="480.6" y1="415" x2="487.8" y2="415" stroke="#000" stroke-width="1.6"/>
<circle cx="484.2" cy="413.6" r="3.8" fill="#0000ff" stroke="none" stroke-width="1"/>
</svg>
<script>var CMAP=[[0, 12, 0, 55], [0.1, 40, 0, 50], [0.23, 115, 0, 30], [0.36, 175, 0, 12], [0.48, 220, 25, 0], [0.6, 248, 85, 0], [0.72, 255, 140, 0], [0.83, 255, 190, 20], [0.92, 255, 232, 80], [1, 255, 255, 175]];

function cmapHot(t){
  var st=CMAP;
  if(t<=0)return st[0].slice(1);if(t>=1)return st[st.length-1].slice(1);
  for(var i=0;i<st.length-1;i++){if(t<=st[i+1][0]){var u=(t-st[i][0])/(st[i+1][0]-st[i][0]);return [st[i][1]+u*(st[i+1][1]-st[i][1]),st[i][2]+u*(st[i+1][2]-st[i][2]),st[i][3]+u*(st[i+1][3]-st[i][3])];}}
}
function pat(id,p){
  var c=document.getElementById(id),ctx=c.getContext('2d'),w=c.width,h=c.height;
  var im=ctx.createImageData(w,h),d=im.data,TP=2*Math.PI,K=p.K;
  var F=new Function('c0','c1','return '+p.expr+';');
  for(var y=0;y<h;y++)for(var x=0;x<w;x++){
    var X=p.ox+x+0.5,Y=p.oy+y+0.5;
    var c0=Math.cos(TP*(K[0][0]*X+K[0][1]*Y-K[0][2])),c1=Math.cos(TP*(K[1][0]*X+K[1][1]*Y-K[1][2]));
    var v=F(c0,c1);
    var t=(v-p.lo)/(p.hi-p.lo);if(p.gam)t=t<0?0:Math.pow(t,p.gam);
    var i=4*(y*w+x),r,g,b;
    if(p.cmap){var cc=cmapHot(t);r=cc[0];g=cc[1];b=cc[2];}
    else{var gg=Math.max(0,Math.min(255,t*255));r=g=b=gg;}
    d[i]=r;d[i+1]=g;d[i+2]=b;d[i+3]=255;
  }
  ctx.putImageData(im,0,0);
}
pat("ca",{"ox": 0, "oy": 20, "K": [[0.02237, 0.0207, 0.832], [0.01391, -0.01504, 0.56]], "expr": "c0+0.18*c1", "lo": -0.95, "hi": 1.22, "cmap": false});
pat("cb",{"ox": 3, "oy": 207, "K": [[0.02237, 0.0207, 0.833], [0.01391, -0.01504, 0.691]], "expr": "c0+0.28*c1+0.1*c0*c1", "lo": -1.35, "hi": 1.4, "cmap": false});
pat("cc",{"ox": 2, "oy": 395, "K": [[0.02237, 0.0207, 0.153], [0.01391, -0.01504, 0.944]], "expr": "c0-0.7*Math.pow((1-c0)/2,2)*Math.max(0,c1)", "lo": -1.6, "hi": 1.0, "cmap": true});
</script>
</body></html>
